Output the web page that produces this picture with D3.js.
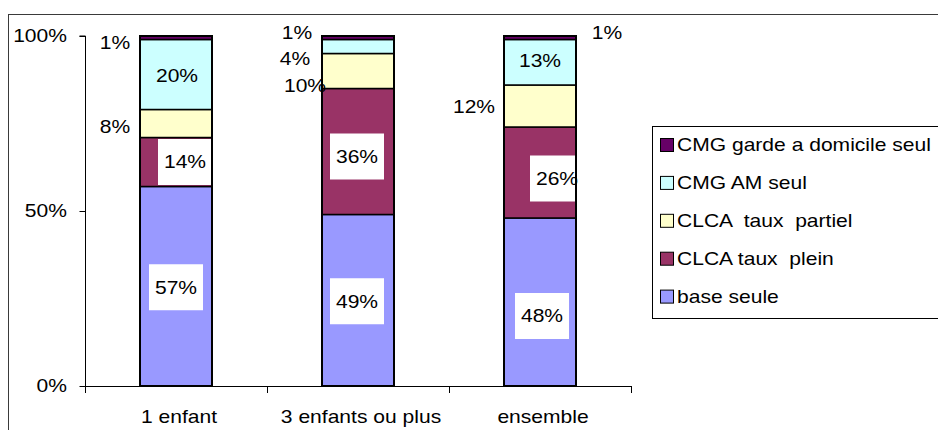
<!DOCTYPE html>
<html>
<head>
<meta charset="utf-8">
<script src="https://cdn.jsdelivr.net/npm/d3@7"></script>
<style>
  html, body { margin: 0; padding: 0; background: #fff; }
  svg { display: block; }
  text { font-family: "Liberation Sans", Arial, sans-serif; fill: #000; white-space: pre; }
</style>
</head>
<body>
<svg id="chart" width="938" height="430"></svg>
<script>
// Categories and stacked series (percent of families)
const categories = ["1 enfant", "3 enfants ou plus", "ensemble"];
const seriesNames = ["base seule", "CLCA taux  plein", "CLCA  taux  partiel", "CMG AM seul", "CMG garde a domicile seul"];
const baseSeule   = [57, 49, 48];
const clcaPlein   = [14, 36, 26];
const clcaPartiel = [8, 10, 12];
const cmgAmSeul   = [20, 4, 13];
const cmgGarde    = [1, 1, 1];
const yTicks = [0, 50, 100];
const seriesColors = ["#9999FF", "#993366", "#FFFFCC", "#CCFFFF", "#660066"];

// Label placement per series (rows) and category (columns):
// mode "box" = white boxed label, "in" = plain inside, "left"/"right" = beside the bar
const labelMode = [
  ["box", "box", "box"],
  ["box", "box", "box"],
  ["left", "left", "left"],
  ["in", "left", "in"],
  ["left", "left", "right"]
];
const labelNudge = [ // [dx, dy] relative to bar centre / segment middle
  [[0, 1], [-1, 1], [2, 14]],
  [[9, 0], [-1, 5], [17, 6]],
  [[-61, 3], [-53, 15], [-66, 1]],
  [[1, 1], [-63, 12], [0, -2]],
  [[-61, 5], [-61, -5], [67, -5]]
];

const seriesValues = [baseSeule, clcaPlein, clcaPartiel, cmgAmSeul, cmgGarde];

const svg = d3.select("#chart");
const FS = 18, SX = 1.17;

function label(sel, x, y, str, anchor) {
  return sel.append("text")
    .attr("transform", `translate(${x},${y}) scale(${SX},1)`)
    .attr("text-anchor", anchor || "middle")
    .attr("dy", "0.35em")
    .attr("xml:space", "preserve")
    .style("font-size", FS + "px")
    .text(str);
}

// chart area frame
svg.append("rect")
  .attr("x", 8.5).attr("y", 14.5)
  .attr("width", 960).attr("height", 440)
  .attr("fill", "#fff").attr("stroke", "#3a3a3a").attr("stroke-width", 1);

const plot = { left: 85, right: 631, top: 36, bottom: 386 };

const x = d3.scaleBand()
  .domain(categories)
  .range([plot.left, plot.right])
  .paddingInner(1 - 72 / 182)
  .paddingOuter((1 - 72 / 182) / 2);

const y = d3.scaleLinear().domain([0, 100]).range([plot.bottom, plot.top]);

// stacked layout
const rows = categories.map((c, i) => {
  const r = { cat: c };
  seriesNames.forEach((s, k) => { r[s] = seriesValues[k][i]; });
  return r;
});
const stacked = d3.stack().keys(seriesNames)(rows);

// y axis
const yAxis = d3.axisLeft(y).tickValues(yTicks).tickSize(6).tickFormat(() => "");
const gy = svg.append("g").attr("transform", `translate(${plot.left + 0.5},0)`).call(yAxis);
gy.select(".domain").attr("stroke", "#000").attr("d", `M-6,${y(100)}H0V${y(0)}`);
gy.selectAll(".tick line").attr("stroke", "#000");
yTicks.forEach(t => label(svg, 67, y(t), t + "%", "end"));

// x axis: baseline with ticks at category boundaries
const gx = svg.append("g");
gx.append("line")
  .attr("x1", plot.left).attr("x2", plot.right)
  .attr("y1", plot.bottom + 0.5).attr("y2", plot.bottom + 0.5)
  .attr("stroke", "#000");
const bounds = [plot.left].concat(categories.map(c => x(c) + x.bandwidth() + x.step() * x.paddingInner() / 2));
bounds.forEach(b => {
  gx.append("line")
    .attr("x1", Math.round(b) + 0.5).attr("x2", Math.round(b) + 0.5)
    .attr("y1", plot.bottom).attr("y2", plot.bottom + 7)
    .attr("stroke", "#000");
});
categories.forEach(c => label(svg, x(c) + x.bandwidth() / 2 + 3, 417, c));

// bars
const gBars = svg.append("g");
stacked.forEach((layer, k) => {
  gBars.selectAll(null).data(layer).join("rect")
    .attr("x", d => x(d.data.cat))
    .attr("width", x.bandwidth())
    .attr("y", d => y(d[1]))
    .attr("height", d => y(d[0]) - y(d[1]))
    .attr("fill", seriesColors[k])
    .attr("stroke", "#000")
    .attr("stroke-width", 1.5);
});

// label boxes
const gLab = svg.append("g");
const gText = svg.append("g");
stacked.forEach((layer, k) => {
  layer.forEach((d, i) => {
    const mode = labelMode[k][i];
    const [dx, dy] = labelNudge[k][i];
    const cx = x(d.data.cat) + x.bandwidth() / 2 + dx;
    const cy = (y(d[0]) + y(d[1])) / 2 + dy;
    if (mode === "box") {
      gLab.append("rect")
        .attr("x", cx - 27).attr("y", cy - 23)
        .attr("width", 54).attr("height", 46)
        .attr("fill", "#fff");
    }
    label(gText, cx, cy, seriesValues[k][i] + "%");
  });
});

// outer bar outlines over the boxes
categories.forEach(c => {
  svg.append("rect")
    .attr("x", x(c)).attr("width", x.bandwidth())
    .attr("y", y(100)).attr("height", y(0) - y(100))
    .attr("fill", "none").attr("stroke", "#000").attr("stroke-width", 2);
});
svg.node().appendChild(gText.node());

// legend (top series first)
const lg = svg.append("g");
lg.append("rect")
  .attr("x", 652.5).attr("y", 126.5)
  .attr("width", 320).attr("height", 192)
  .attr("fill", "#fff").attr("stroke", "#000");
const legendOrder = d3.range(seriesNames.length).reverse();
legendOrder.forEach((k, j) => {
  const cy = 145 + j * 37.9;
  lg.append("rect")
    .attr("x", 660.5).attr("y", cy - 6.5)
    .attr("width", 13).attr("height", 13)
    .attr("fill", seriesColors[k]).attr("stroke", "#000");
  label(lg, 677, cy, seriesNames[k], "start");
});
</script>
</body>
</html>
